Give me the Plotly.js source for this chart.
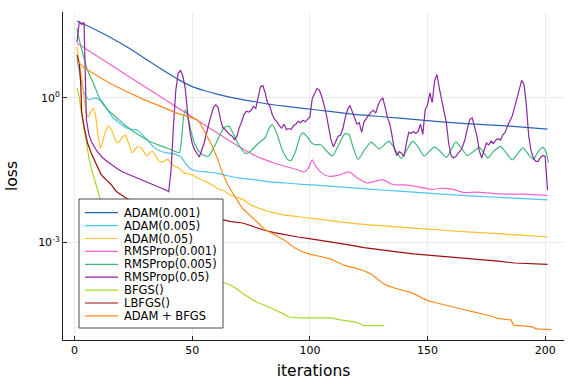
<!DOCTYPE html>
<html><head><meta charset="utf-8">
<script src="https://cdn.plot.ly/plotly-3.0.1.min.js"></script>
<style>html,body{margin:0;padding:0;background:#fff}#chart{width:576px;height:384px}</style>
</head><body><div id="chart"></div>
<script>
// ---- data (x = iteration, y = log10(loss)) ----
const seriesNames = ["ADAM(0.001)","ADAM(0.005)","ADAM(0.05)","RMSProp(0.001)","RMSProp(0.005)","RMSProp(0.05)","BFGS()","LBFGS()","ADAM + BFGS"];
const seriesColors = ["#2a64ae","#4cc4ee","#ffbf2e","#f464cc","#40b87a","#8b27a0","#a4db2a","#9e0d0d","#ff8a1c"];
const xTickVals = [0,50,100,150,200];
const yTickVals = [1, 0.001];
const yTickText = ["10<sup>0</sup>","10<sup>-3</sup>"];

const adam001_iter = [1,8,16,23,30,37,44,50,55,61,68,75,82,90,97,104,111,118,125,132,144,156,170,185,201];
const adam001_log10 = [1.59,1.43,1.23,1.03,0.81,0.59,0.38,0.23,0.15,0.07,-0.01,-0.07,-0.13,-0.18,-0.22,-0.26,-0.30,-0.34,-0.37,-0.40,-0.45,-0.50,-0.55,-0.59,-0.65];

const adam005_iter = [1,2,3,4,5,6,7.5,9,10.5,12,14,16,19,22,25,27,29,31,33.5,36,39,42,45,47,49,51,56,61,65,70,76,82,90,97,104,118,132,144,156,170,185,201];
const adam005_log10 = [0.80,0.55,0.30,0.12,0.02,-0.04,-0.02,-0.01,-0.04,-0.10,-0.25,-0.40,-0.52,-0.63,-0.66,-0.68,-0.78,-0.88,-1.02,-1.10,-1.14,-1.16,-1.22,-1.35,-1.47,-1.51,-1.54,-1.57,-1.62,-1.67,-1.70,-1.74,-1.77,-1.80,-1.82,-1.87,-1.92,-1.96,-2.00,-2.04,-2.08,-2.12];

const adam05_iter = [1,2,3,4,5,5.8,7,8,9,10,11,12,13.5,14.6,16,18,19.5,21.4,23,24.5,26.7,28.5,30.6,33,35.9,37.5,39.4,42.3,44,46.5,50,52,55,58,61.4,63.5,65.7,68,71.4,73.5,76,80.6,84,87.7,95,102,112,123,137,151.5,165,180,190,201];
const adam05_log10 = [1.06,0.70,0.45,0.0,-0.30,-0.40,-0.28,-0.22,-0.40,-0.80,-1.05,-0.90,-0.65,-0.59,-0.70,-0.94,-0.88,-0.77,-0.95,-1.14,-1.02,-1.05,-1.21,-1.11,-1.32,-1.33,-1.28,-1.42,-1.45,-1.56,-1.60,-1.66,-1.72,-1.80,-1.90,-1.93,-2.01,-2.05,-2.11,-2.18,-2.25,-2.33,-2.38,-2.42,-2.47,-2.51,-2.57,-2.63,-2.68,-2.73,-2.78,-2.82,-2.85,-2.89];

const rms001_iter = [1,10,25,40,50,60,70,75,80,85,90,95,97.6,99.5,101,102.5,105,108,112,116.6,120,124.5,128,131,135,140,145,151.5,156,160,165.7,170,174,182.6,191,201];
const rms001_log10 = [1.13,0.85,0.38,-0.09,-0.40,-0.71,-1.02,-1.16,-1.27,-1.36,-1.43,-1.50,-1.54,-1.45,-1.29,-1.42,-1.56,-1.63,-1.61,-1.54,-1.66,-1.77,-1.73,-1.70,-1.80,-1.81,-1.84,-1.90,-1.88,-1.89,-1.97,-1.96,-1.97,-2.00,-2.00,-2.03];

const rms005_iter = [1,2,3,4,5.4,8,11,14,18,21.5,25,28.5,32,36,39.5,43,44.5,45.5,46.3,47.1,48,49.5,51,53,55,57,59,61.5,63.5,65.5,67.5,70,72.8,75,78,81,82.5,84,86,88,90.5,92,94,96,97,99,101,103,104.5,107,109.6,112,114.8,116.5,118.5,120.5,123,126,129.5,133.5,136,138.7,141,143.7,146,148.5,151,153,155.5,158,160,162,164.5,166.8,169.5,172,174,175.6,178,181,183.5,186,188.5,190.5,193,195,197,199,200.3,201.4];
const rms005_log10 = [1.44,1.20,1.00,0.82,0.58,0.30,-0.05,-0.25,-0.42,-0.57,-0.70,-0.81,-0.91,-0.99,-1.05,-1.12,-1.14,-0.85,-0.40,-0.25,-0.38,-0.70,-0.95,-1.12,-1.20,-1.21,-1.05,-0.80,-0.62,-0.59,-0.75,-1.00,-1.16,-1.10,-0.95,-0.83,-0.65,-0.56,-0.75,-1.05,-1.28,-1.30,-1.10,-0.78,-0.73,-0.82,-0.95,-0.98,-0.97,-1.10,-1.21,-1.00,-0.75,-0.76,-1.05,-1.28,-1.10,-0.92,-1.06,-0.90,-1.05,-1.26,-1.10,-0.90,-1.02,-1.21,-1.10,-1.02,-1.12,-1.24,-1.08,-0.92,-1.05,-1.20,-1.12,-1.03,-1.15,-1.25,-1.12,-1.01,-1.15,-1.29,-1.15,-1.04,-1.18,-1.28,-1.12,-1.03,-1.12,-1.35];

const rms05_iter = [1,2,3,4,5,6,7,8,9,10,11,12,14,16,18,20,23,26,28,30,33,35,37,39,40,41,42,43,44,45,46,47,48,49,50,51,53,55,57,59,60,61,62,63,64,65,66,67,68,69,70,71,72,73,74,75,76,77,78,79,80,81,82,83,84,85,86,87,88,89,90,91,92,93,94,95,96,97,98,99,100,101,102,103,104,105,106,107,108,109,110,111,112,113,114,115,116,117,118,119,120,121,122,123,124,125,126,127,128,129,130,131,132,133,134,135,136,137,138,139,140,141,142,143,144,145,146,147,148,149,150,151,152,153,154,155,156,157,158,159,160,161,162,163,164,165,166,167,168,169,170,171,172,173,174,175,176,177,178,179,180,181,182,183,184,185,186,187,188,189,190,191,192,193,194,195,196,197,198,199,200,201];
const rms05_log10 = [1.15,1.58,1.52,1.56,-0.45,-0.75,-0.90,-1.00,-1.07,-1.14,-1.20,-1.25,-1.33,-1.41,-1.47,-1.53,-1.59,-1.65,-1.69,-1.73,-1.79,-1.83,-1.87,-1.92,-1.95,-1.50,-0.60,0.15,0.50,0.57,0.45,0.20,-0.30,-0.70,-0.95,-1.08,-1.23,-0.95,-0.55,-0.20,-0.15,-0.20,-0.45,-0.62,-0.66,-0.72,-0.77,-0.80,-0.87,-0.80,-0.62,-0.50,-0.35,-0.28,-0.30,-0.26,-0.18,-0.22,0.00,0.23,0.25,0.10,-0.11,-0.18,-0.35,-0.45,-0.50,-0.58,-0.63,-0.55,-0.66,-0.64,-0.66,-0.58,-0.55,-0.49,-0.52,-0.47,-0.50,-0.44,-0.40,-0.02,0.10,0.19,0.16,0.03,-0.15,-0.35,-0.62,-0.88,-1.02,-0.92,-0.80,-0.78,-0.65,-0.42,-0.25,-0.16,-0.30,-0.45,-0.55,-0.52,-0.72,-0.50,-0.42,-0.36,-0.30,-0.26,-0.32,-0.15,-0.05,-0.01,-0.20,-0.42,-0.55,-0.80,-1.08,-1.20,-1.12,-1.15,-1.22,-0.95,-0.72,-0.74,-0.70,-0.74,-0.70,-0.55,-0.76,-0.25,-0.15,0.10,-0.10,0.35,0.48,0.20,-0.05,-0.30,-0.52,-0.95,-1.20,-1.25,-1.22,-1.15,-1.10,-1.00,-0.85,-0.62,-0.45,-0.42,-0.62,-0.80,-1.10,-1.25,-1.10,-0.94,-0.98,-0.90,-0.95,-0.88,-0.85,-0.88,-0.77,-0.72,-0.58,-0.48,-0.38,-0.20,0.00,0.20,0.36,0.28,-0.15,-0.80,-1.10,-1.25,-1.32,-1.32,-1.24,-1.20,-1.22,-1.92];

const bfgs_iter = [1,2,2.7,4.1,5,6.2,7.3,8.4,9.5,10.5,12,14,17,21,26,32,38,44,50,56,63,66.4,69,72,75,77.7,80.6,84.8,89,91,96,109,113,118.9,121,123,131.6];
const bfgs_log10 = [0.20,0.00,-0.25,-0.66,-0.95,-1.28,-1.50,-1.70,-1.88,-2.04,-2.25,-2.45,-2.65,-2.85,-3.05,-3.22,-3.38,-3.50,-3.62,-3.70,-3.82,-3.89,-3.97,-4.08,-4.17,-4.25,-4.30,-4.39,-4.49,-4.55,-4.57,-4.57,-4.61,-4.65,-4.68,-4.73,-4.73];

const lbfgs_iter = [1,2,2.6,3,4,5.5,7,8.4,9.8,11.2,13.3,15.5,17.6,19.7,21.8,25,30,35,40,45,50,56,63,66.4,71.5,75,80,84.8,90,95,100.4,109,116,123,130,137,144,151.5,158,165.7,173,180,187,194,201];
const lbfgs_log10 = [0.89,0.70,0.30,-0.30,-0.60,-0.94,-1.14,-1.28,-1.42,-1.59,-1.70,-1.80,-1.94,-2.01,-2.08,-2.15,-2.24,-2.31,-2.37,-2.42,-2.46,-2.50,-2.53,-2.57,-2.60,-2.66,-2.74,-2.80,-2.85,-2.89,-2.93,-2.99,-3.05,-3.11,-3.16,-3.20,-3.24,-3.27,-3.31,-3.34,-3.37,-3.39,-3.43,-3.45,-3.46];

const adambfgs_iter = [1,4,8,15,22,29,36.6,44,50,52,53,54,56,58.6,61,62.8,65,67,69,71.4,75,78,80.6,83,86,89,93.3,97,100.4,105,109,112,114.6,119,123,126,128.8,131,133,138,143,147,150,154,157,161,165.7,170,174,177,180,185.5,186.5,190,194,196,197.5,202.5];
const adambfgs_log10 = [0.77,0.62,0.50,0.30,0.13,-0.03,-0.18,-0.33,-0.42,-0.46,-0.50,-0.59,-0.78,-1.01,-1.30,-1.56,-1.80,-1.97,-2.12,-2.30,-2.46,-2.60,-2.73,-2.80,-2.87,-2.95,-3.11,-3.20,-3.25,-3.30,-3.35,-3.42,-3.48,-3.53,-3.59,-3.66,-3.77,-3.85,-3.90,-3.98,-4.04,-4.14,-4.21,-4.26,-4.30,-4.35,-4.40,-4.45,-4.49,-4.53,-4.58,-4.61,-4.72,-4.74,-4.75,-4.79,-4.80,-4.81];

const seriesX = [adam001_iter, adam005_iter, adam05_iter, rms001_iter, rms005_iter, rms05_iter, bfgs_iter, lbfgs_iter, adambfgs_iter];
const seriesLog = [adam001_log10, adam005_log10, adam05_log10, rms001_log10, rms005_log10, rms05_log10, bfgs_log10, lbfgs_log10, adambfgs_log10];
const seriesShape = ["spline","spline","spline","spline","spline","linear","linear","linear","linear"];

// ---- layout constants ----
const FONT = "DejaVu Sans, Liberation Sans, sans-serif";
const W = 576, H = 384;
const plotL = 63, plotR = 564, plotT = 12, plotB = 340;
const px2x = p => (p - plotL) / (plotR - plotL);
const py2y = p => (plotB - p) / (plotB - plotT);

const traces = seriesNames.map((name, i) => ({
  type: "scatter", mode: "lines", name: name,
  x: seriesX[i],
  y: seriesLog[i].map(v => Math.pow(10, v)),
  line: {color: seriesColors[i], width: 1.2, shape: seriesShape[i], smoothing: 0.6},
  showlegend: false, hoverinfo: "x+y+name"
}));

// custom legend (box, line samples, labels)
const legBox = {x0: 79, x1: 223, y0: 199, y1: 328};
const legFirstY = 212.7, legStep = 12.9, legLineX0 = 85, legLineX1 = 118, legTextX = 122.5;
const shapes = [{
  type: "rect", xref: "paper", yref: "paper",
  x0: px2x(legBox.x0), x1: px2x(legBox.x1), y0: py2y(legBox.y1), y1: py2y(legBox.y0),
  fillcolor: "#ffffff", line: {color: "#4a4a4a", width: 1}, layer: "above"
}];
const annotations = [];
seriesNames.forEach((name, i) => {
  const cy = legFirstY + i * legStep;
  shapes.push({type: "line", xref: "paper", yref: "paper",
    x0: px2x(legLineX0), x1: px2x(legLineX1), y0: py2y(cy), y1: py2y(cy),
    line: {color: seriesColors[i], width: 1.2}, layer: "above"});
  annotations.push({xref: "paper", yref: "paper", x: px2x(legTextX), y: py2y(cy),
    xanchor: "left", yanchor: "middle", showarrow: false, text: name,
    height: 12, borderpad: 0, valign: "middle",
    font: {family: FONT, size: 11.5, color: "#000"}});
});

const layout = {
  width: W, height: H,
  margin: {l: plotL, r: W - plotR, t: plotT, b: H - plotB},
  paper_bgcolor: "#fff", plot_bgcolor: "#fff",
  font: {family: FONT, size: 11, color: "#000"},
  showlegend: false,
  xaxis: {
    range: [-4.93, 208], tickvals: xTickVals, ticks: "inside", ticklen: 4, tickcolor: "#222",
    showline: true, linecolor: "#222", linewidth: 1, mirror: false,
    showgrid: true, gridcolor: "#ebebeb", gridwidth: 1, zeroline: false,
    tickfont: {family: FONT, size: 11, color: "#000"},
    title: {text: "iterations", font: {family: FONT, size: 15.5, color: "#000"}, standoff: 8}
  },
  yaxis: {
    type: "log", range: [-5.027, 1.778], tickvals: yTickVals, ticktext: yTickText,
    ticks: "inside", ticklen: 4, tickcolor: "#222",
    showline: true, linecolor: "#222", linewidth: 1, mirror: false,
    showgrid: true, gridcolor: "#ebebeb", gridwidth: 1, zeroline: false,
    tickfont: {family: FONT, size: 11, color: "#000"},
    title: {text: "loss", font: {family: FONT, size: 15.5, color: "#000"}, standoff: 16}
  },
  shapes: shapes,
  annotations: annotations
};

Plotly.newPlot("chart", traces, layout, {displayModeBar: false, staticPlot: true});
</script>
</body></html>
